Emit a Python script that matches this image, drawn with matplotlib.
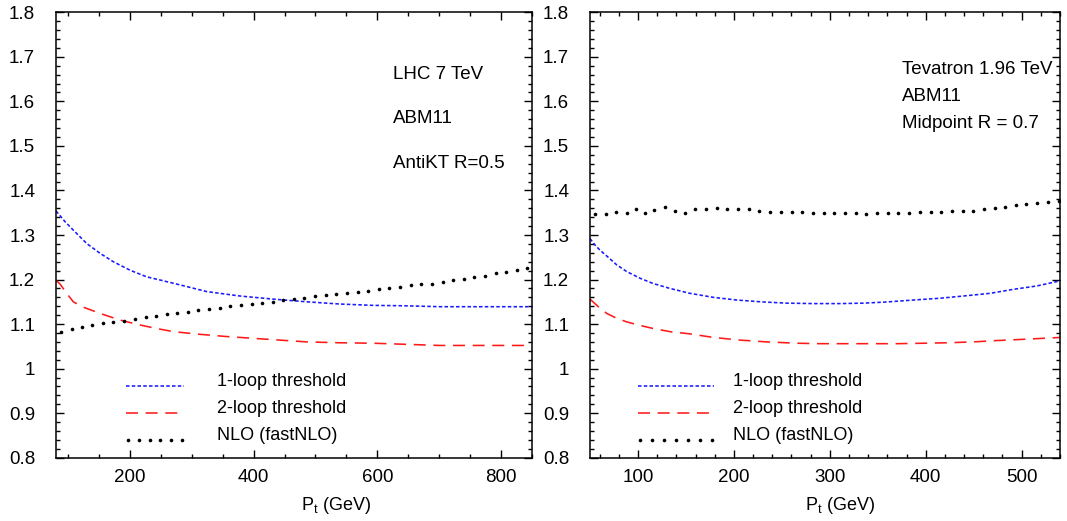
import matplotlib
matplotlib.use("Agg")
import matplotlib.pyplot as plt
from matplotlib.ticker import MultipleLocator, FixedLocator
import numpy as np

plt.rcParams['font.family'] = ['Liberation Sans', 'DejaVu Sans']
plt.rcParams['mathtext.fontset'] = 'custom'
plt.rcParams['mathtext.rm'] = 'Liberation Sans'
plt.rcParams['mathtext.it'] = 'Liberation Sans'

# ---------------- LHC 7 TeV (left panel) ----------------
lhc_pt_1loop = [80, 94.6, 108, 129.6, 151.2, 172.8, 199.8, 226.8, 248.3, 280.7,
                323.9, 377.8, 431.8, 485.8, 539.7, 593.7, 647.6, 701.6, 755.5, 850]
lhc_1loop = [1.354, 1.330, 1.311, 1.281, 1.259, 1.240, 1.221, 1.206, 1.199, 1.188,
             1.173, 1.163, 1.156, 1.150, 1.145, 1.142, 1.141, 1.139, 1.139, 1.139]

lhc_pt_2loop = [80, 86.5, 97.3, 108, 124.2, 151.2, 183.6, 216, 243, 269.9,
                313.1, 356.3, 421, 485.8, 539.7, 593.7, 647.6, 701.6, 850]
lhc_2loop = [1.198, 1.190, 1.169, 1.150, 1.138, 1.124, 1.109, 1.098, 1.090, 1.083,
             1.077, 1.072, 1.066, 1.060, 1.058, 1.057, 1.0545, 1.052, 1.052]

lhc_pt_nlo = [87.6, 105.4, 121.5, 138.8, 155.5, 172.8, 190.1, 207.9, 225.1, 241.9,
              259.1, 276.4, 293.1, 310.4, 327.7, 345.5, 361.7, 378.9, 396.7, 414.0,
              430.7, 448.0, 465.3, 482.0, 499.8, 516.5, 533.8, 550.5, 568.3, 585.6,
              602.8, 619.6, 636.8, 654.1, 670.8, 688.6, 705.9, 723.2, 739.9, 757.2,
              774.4, 791.7, 808.4, 825.7, 843.0]
lhc_nlo = [1.083, 1.088, 1.093, 1.097, 1.102, 1.104, 1.107, 1.111, 1.115, 1.119,
           1.122, 1.125, 1.128, 1.131, 1.134, 1.137, 1.141, 1.143, 1.145, 1.148,
           1.150, 1.153, 1.156, 1.159, 1.163, 1.165, 1.168, 1.170, 1.172, 1.175,
           1.178, 1.181, 1.184, 1.187, 1.189, 1.191, 1.195, 1.199, 1.202, 1.206,
           1.209, 1.214, 1.218, 1.221, 1.225]

# ---------------- Tevatron 1.96 TeV (right panel) ----------------
tev_pt_1loop = [50, 55.2, 60.4, 67.4, 77.8, 88.2, 102.1, 116, 133.4, 154.3,
                178.6, 202.9, 230.7, 255, 282.8, 310.6, 335, 359.3, 387.1, 414.9,
                439.2, 467, 491.3, 515.7, 540]
tev_1loop = [1.292, 1.2775, 1.266, 1.253, 1.233, 1.218, 1.203, 1.191, 1.180, 1.169,
             1.160, 1.154, 1.1496, 1.147, 1.146, 1.146, 1.147, 1.1496, 1.154, 1.158,
             1.163, 1.169, 1.178, 1.1855, 1.197]

tev_pt_2loop = [50, 58.7, 67.4, 77.8, 88.2, 102.1, 116, 133.4, 154.3, 178.6,
                206.4, 234.2, 265.5, 289.8, 317.6, 345.4, 370, 397.5, 422, 449.6,
                474.1, 508.7, 540]
tev_2loop = [1.156, 1.139, 1.124, 1.113, 1.105, 1.097, 1.090, 1.083, 1.078, 1.070,
             1.064, 1.060, 1.057, 1.056, 1.056, 1.056, 1.056, 1.057, 1.058, 1.060,
             1.063, 1.0665, 1.070]

tev_pt_nlo = [55.2, 66.7, 77.1, 88.2, 97.6, 107.3, 117.1, 128.2, 138.6, 149.0,
              159.5, 170.9, 182.0, 193.2, 204.6, 215.8, 226.5, 237.7, 248.8, 260.3,
              271.4, 282.1, 293.6, 304.7, 315.8, 327.0, 337.7, 349.2, 360.4, 371.4,
              382.9, 394.0, 405.2, 416.0, 427.1, 438.6, 449.6, 460.8, 471.9, 483.0,
              493.8, 504.9, 516.3, 527.5, 538.6]
tev_nlo = [1.3465, 1.347, 1.352, 1.349, 1.359, 1.350, 1.356, 1.362, 1.355, 1.350,
           1.358, 1.359, 1.360, 1.359, 1.359, 1.358, 1.355, 1.352, 1.352, 1.352,
           1.351, 1.349, 1.349, 1.349, 1.349, 1.349, 1.348, 1.349, 1.349, 1.3495,
           1.350, 1.351, 1.352, 1.352, 1.353, 1.354, 1.355, 1.358, 1.361, 1.3635,
           1.367, 1.369, 1.372, 1.374, 1.376]

legend_labels = ['1-loop threshold', '2-loop threshold', 'NLO (fastNLO)']
y_ticks = [0.8, 0.9, 1, 1.1, 1.2, 1.3, 1.4, 1.5, 1.6, 1.7, 1.8]
y_ticklabels = ['0.8', '0.9', '1', '1.1', '1.2', '1.3', '1.4', '1.5', '1.6', '1.7', '1.8']

BLUE = '#1a1aff'
RED = '#ff1a1a'
FS_TICK = 13.5
FS_TEXT = 13.5
FS_LEG = 13
FS_LABEL = 13

fig = plt.figure(figsize=(10.67, 5.21), dpi=100)
ax1 = fig.add_axes([56 / 1067, 1 - 457.7 / 521, 475.7 / 1067, 445.4 / 521])
ax2 = fig.add_axes([590 / 1067, 1 - 457.7 / 521, 470 / 1067, 445.4 / 521])

blue_style = dict(color=BLUE, lw=1.15, dashes=(2.2, 1.4))
red_style = dict(color=RED, lw=1.15, dashes=(7.5, 4.8))
nlo_style = dict(color='black', ls='none', marker='o', ms=2.6, mew=0)


def style_axes(ax, xlim, major, minor, xlabel_x):
    ax.set_xlim(*xlim)
    ax.set_ylim(0.8, 1.8)
    ax.xaxis.set_major_locator(MultipleLocator(major))
    ax.xaxis.set_minor_locator(MultipleLocator(minor))
    ax.yaxis.set_major_locator(FixedLocator(y_ticks))
    ax.yaxis.set_minor_locator(MultipleLocator(0.02))
    ax.set_yticklabels(y_ticklabels)
    ax.tick_params(which='both', direction='in', top=True, right=True,
                   width=1.0, labelsize=FS_TICK)
    ax.tick_params(which='major', length=6)
    ax.tick_params(which='minor', length=3)
    ax.tick_params(axis='y', pad=15)
    ax.tick_params(axis='x', pad=8)
    for s in ax.spines.values():
        s.set_linewidth(1.1)
    ax.set_xlabel(r'$\mathrm{P_t}$ (GeV)', fontsize=FS_LABEL)
    ax.xaxis.set_label_coords(xlabel_x, -0.083)


def draw_legend(ax, x0, x1, xt, ndots):
    rows = [0.1617, 0.1004, 0.0397]
    ax.plot([x0, x1], [rows[0]] * 2, transform=ax.transAxes, **blue_style)
    ax.plot([x0, x1], [rows[1]] * 2, transform=ax.transAxes, **red_style)
    ax.plot(np.linspace(x0 + 0.005, x1 - 0.005, ndots), [rows[2]] * ndots,
            transform=ax.transAxes, **nlo_style)
    for y, lab in zip(rows, legend_labels):
        ax.text(xt, y, lab, transform=ax.transAxes, fontsize=FS_LEG,
                va='baseline', ha='left')


# Left panel
ax1.plot(lhc_pt_1loop, lhc_1loop, **blue_style)
ax1.plot(lhc_pt_2loop, lhc_2loop, **red_style)
ax1.plot(lhc_pt_nlo, lhc_nlo, **nlo_style)
style_axes(ax1, (80, 850), 200, 50, 0.589)
draw_legend(ax1, 0.147, 0.269, 0.338, 6)
for y, t in zip([0.850, 0.752, 0.651], ['LHC 7 TeV', 'ABM11', 'AntiKT R=0.5']):
    ax1.text(0.708, y, t, transform=ax1.transAxes, fontsize=FS_TEXT, va='baseline')

# Right panel
ax2.plot(tev_pt_1loop, tev_1loop, **blue_style)
ax2.plot(tev_pt_2loop, tev_2loop, **red_style)
ax2.plot(tev_pt_nlo, tev_nlo, **nlo_style)
style_axes(ax2, (50, 540), 100, 20, 0.532)
draw_legend(ax2, 0.102, 0.264, 0.304, 7)
for y, t in zip([0.861, 0.801, 0.740], ['Tevatron 1.96 TeV', 'ABM11', 'Midpoint R = 0.7']):
    ax2.text(0.664, y, t, transform=ax2.transAxes, fontsize=FS_TEXT, va='baseline')

fig.savefig('out.png', dpi=100)
